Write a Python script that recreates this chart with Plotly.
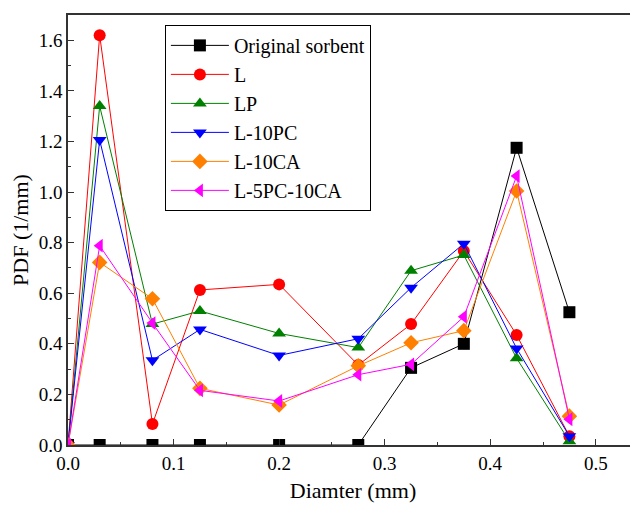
import plotly.graph_objects as go

diameter = [0, 0.03, 0.08, 0.125, 0.2, 0.275, 0.325, 0.375, 0.425, 0.475]
original = [0, 0, 0, 0, 0, 0, 0.305, 0.40, 1.175, 0.525]
L = [0, 1.62, 0.083, 0.613, 0.635, 0.316, 0.478, 0.767, 0.435, 0.035]
LP = [0, 1.34, 0.478, 0.53, 0.441, 0.385, 0.689, 0.751, 0.343, 0.015]
L10PC = [0, 1.206, 0.335, 0.457, 0.354, 0.42, 0.622, 0.796, 0.382, 0.035]
L10CA = [0, 0.722, 0.578, 0.224, 0.158, 0.313, 0.404, 0.452, 1.004, 0.114]
L5PC10CA = [0, 0.788, 0.482, 0.216, 0.174, 0.278, 0.319, 0.507, 1.063, 0.102]

series = [
    ("Original sorbent", original, "black", "square"),
    ("L", L, "#FF0000", "circle"),
    ("LP", LP, "#008000", "triangle-up"),
    ("L-10PC", L10PC, "#0000FF", "triangle-down"),
    ("L-10CA", L10CA, "#FF8000", "diamond"),
    ("L-5PC-10CA", L5PC10CA, "#FF00FF", "triangle-left"),
]

fig = go.Figure()
for name, ys, color, sym in series:
    fig.add_trace(go.Scatter(
        x=diameter, y=ys, name=name, mode="lines+markers",
        line=dict(color=color, width=1),
        marker=dict(symbol=sym, size=12, color=color, line=dict(width=0)),
    ))

font_family = "Liberation Serif, Times New Roman, serif"
fig.update_layout(
    width=630, height=498,
    margin=dict(l=60, r=0, t=7, b=61),
    paper_bgcolor="white", plot_bgcolor="white",
    font=dict(family=font_family, size=20, color="black"),
    showlegend=True,
    legend=dict(
        x=0.17, y=0.977, xanchor="left", yanchor="top",
        bgcolor="white", bordercolor="black", borderwidth=1,
        font=dict(size=20, family=font_family), itemwidth=58,
        tracegroupgap=0,
    ),
)
fig.update_xaxes(
    range=[0, 0.54], tickvals=[0, 0.1, 0.2, 0.3, 0.4, 0.5],
    ticktext=["0.0", "0.1", "0.2", "0.3", "0.4", "0.5"],
    showgrid=False, zeroline=False, automargin=False,
    showline=True, linecolor="#333", linewidth=1.5, mirror=True,
    ticks="inside", ticklen=6, tickwidth=1.2, tickcolor="#333",
    minor=dict(ticks="inside", ticklen=3, tickwidth=1, tickcolor="#333", dtick=0.05, tick0=0),
    title=dict(text="Diamter (mm)", font=dict(size=22, family=font_family), standoff=10),
    tickfont=dict(size=19, family=font_family),
)
fig.update_yaxes(
    range=[0, 1.7], tickvals=[0, 0.2, 0.4, 0.6, 0.8, 1.0, 1.2, 1.4, 1.6],
    ticktext=["0.0", "0.2", "0.4", "0.6", "0.8", "1.0", "1.2", "1.4", "1.6"],
    showgrid=False, zeroline=False, automargin=False,
    showline=True, linecolor="#333", linewidth=1.5, mirror=False,
    ticks="inside", ticklen=6, tickwidth=1.2, tickcolor="#333",
    minor=dict(ticks="inside", ticklen=3, tickwidth=1, tickcolor="#333", dtick=0.1, tick0=0),
    title=dict(text="PDF (1/mm)", font=dict(size=22, family=font_family), standoff=6),
    tickfont=dict(size=19, family=font_family),
)

fig.write_html("out.html")
